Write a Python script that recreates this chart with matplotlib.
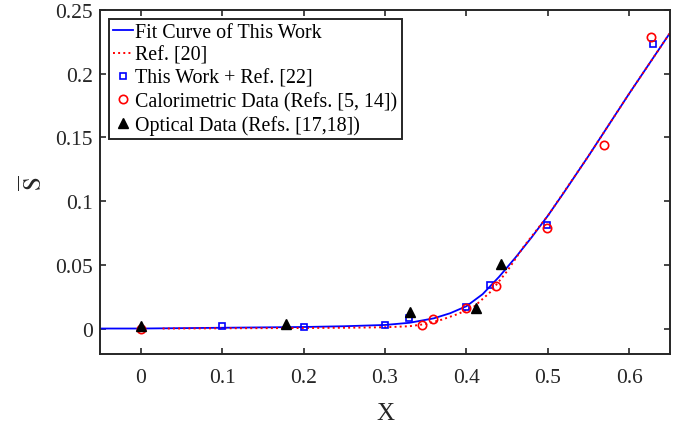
import numpy as np
import matplotlib
matplotlib.use('Agg')
import matplotlib.pyplot as plt

plt.rcParams['font.family'] = ['Liberation Serif', 'DejaVu Serif']
plt.rcParams['mathtext.fontset'] = 'stix'

# Кривая аппроксимации (эта работа)
fit_x = [-0.05, 0.0, 0.1, 0.2, 0.25, 0.30, 0.33, 0.36, 0.38, 0.40, 0.42,
         0.44, 0.46, 0.48, 0.50, 0.52, 0.55, 0.60, 0.65]
fit_y = [0.0, 0.0, 0.0006, 0.0012, 0.0018, 0.0028, 0.0045, 0.0080, 0.0120,
         0.0175, 0.0270, 0.0405, 0.0555, 0.0715, 0.0885, 0.1070, 0.1355,
         0.1845, 0.2320]

# Ref. [20]
ref_x = [0.027, 0.1, 0.2, 0.25, 0.30, 0.33, 0.35, 0.37, 0.39, 0.41, 0.43,
         0.45, 0.47, 0.50, 0.55, 0.60, 0.65]
ref_y = [0.0, 0.0002, 0.0004, 0.0006, 0.0010, 0.0018, 0.0035, 0.0070, 0.0115,
         0.0175, 0.0290, 0.0450, 0.0640, 0.0885, 0.1355, 0.1845, 0.2320]

# This Work + Ref. [22]
sq_x = [0.1, 0.2, 0.3, 0.33, 0.40, 0.429, 0.499, 0.629]
sq_y = [0.0018, 0.0013, 0.0027, 0.0084, 0.0167, 0.034, 0.0813, 0.223]

# Calorimetric Data
circ_x = [0.0, 0.345, 0.359, 0.40, 0.4365, 0.499, 0.569, 0.627]
circ_y = [-0.0003, 0.0024, 0.0076, 0.016, 0.033, 0.079, 0.1443, 0.229]

# Optical Data
tri_x = [0.0, 0.179, 0.331, 0.412, 0.442]
tri_y = [0.002, 0.0037, 0.013, 0.0160, 0.0505]

fig = plt.figure(figsize=(6.81, 4.27), dpi=100)
ax = fig.add_axes([0.1468, 0.1686, 0.8370, 0.8056])

ax.plot(fit_x, fit_y, '-', color='#0000ff', lw=1.3, label='Fit Curve of This Work')
ax.plot(ref_x, ref_y, ':', color='#ff0000', lw=1.4, label='Ref. [20]')
ax.plot(sq_x, sq_y, 's', ms=5, mfc='none', mec='#0000ff', mew=1.2, ls='none',
        label='This Work + Ref. [22]')
ax.plot(circ_x, circ_y, 'o', ms=6, mfc='none', mec='#ff0000', mew=1.2, ls='none',
        label='Calorimetric Data (Refs. [5, 14])')
ax.plot(tri_x, tri_y, '^', ms=6.5, color='black', ls='none',
        label='Optical Data (Refs. [17,18])')

ax.set_xlim(-0.05, 0.65)
ax.set_ylim(-0.02, 0.25)
ax.set_xticks([0, 0.1, 0.2, 0.3, 0.4, 0.5, 0.6])
ax.set_xticklabels(['0', '0.1', '0.2', '0.3', '0.4', '0.5', '0.6'])
ax.set_yticks([0, 0.05, 0.1, 0.15, 0.2, 0.25])
ax.set_yticklabels(['0', '0.05', '0.1', '0.15', '0.2', '0.25'])
ax.tick_params(direction='in', top=True, right=True, length=4, width=1.2,
               labelsize=15.5, colors='#262626')
ax.tick_params(axis='x', pad=10)
ax.tick_params(axis='y', pad=5)
for s in ax.spines.values():
    s.set_linewidth(1.4)
    s.set_color('#262626')

ax.set_xlabel('X', fontsize=18, color='#262626', labelpad=11)
ax.set_ylabel(r'$\overline{\mathrm{S}}$', fontsize=18, color='#262626', labelpad=6)

leg = ax.legend(loc='upper left', bbox_to_anchor=(0.0158, 0.974), borderaxespad=0,
                fontsize=14.4, handlelength=1.0, handletextpad=0.12, borderpad=0.2,
                labelspacing=0.2, fancybox=False, framealpha=1, edgecolor='#262626')
leg.get_frame().set_linewidth(1.4)

fig.savefig('out.png', dpi=100)
